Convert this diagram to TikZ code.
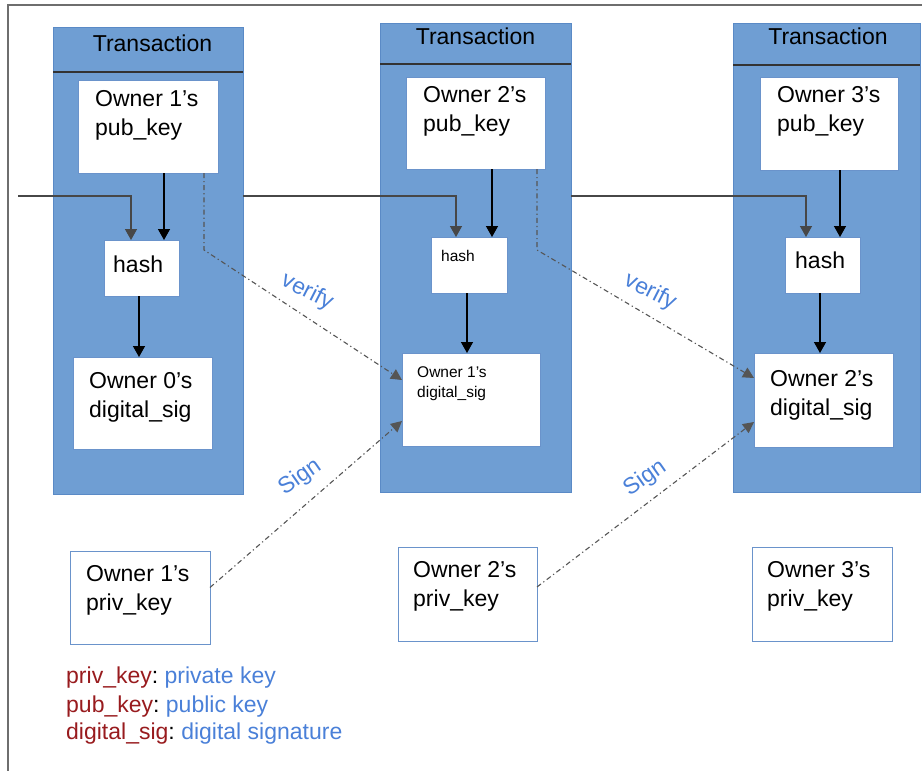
\documentclass[tikz,border=0pt]{standalone}
\usepackage{fontspec}
\setmainfont{Liberation Sans}
\usetikzlibrary{arrows.meta}

\definecolor{txfill}{HTML}{6F9ED3}
\definecolor{txedge}{HTML}{5A8AC6}
\definecolor{boxedge}{HTML}{6A93CB}
\definecolor{termred}{HTML}{981B1E}
\definecolor{termblue}{HTML}{4A80D8}
\definecolor{framegray}{HTML}{6E6E6E}
\definecolor{linkgray}{HTML}{474747}
\definecolor{dashgray}{HTML}{555555}

\begin{document}
\frenchspacing
\begin{tikzpicture}[x=1pt,y=-1pt,
  txbox/.style={draw=txedge, fill=txfill, line width=0.8pt, inner sep=0pt, outer sep=0pt, anchor=north west},
  wbox/.style={draw=boxedge, fill=white, line width=1pt, inner sep=0pt, outer sep=0pt, anchor=north west},
  divider/.style={draw=black!80, line width=1.2pt},
  title/.style={font=\fontsize{23}{29}\selectfont, inner sep=0pt, anchor=base},
  bigtext/.style={font=\fontsize{23}{29}\selectfont, inner sep=0pt, align=left, anchor=north west},
  smalltext/.style={font=\fontsize{15.5}{19.5}\selectfont, inner sep=0pt, align=left, anchor=north west},
  feed/.style={draw=black, line width=1.4pt, -{Triangle[length=11pt,width=12pt]}},
  chain/.style={draw=linkgray, line width=1.4pt, -{Triangle[length=11pt,width=12pt]}},
  sigline/.style={draw=dashgray, line width=1.1pt, dash pattern=on 5pt off 3pt on 1.2pt off 3pt, -{Triangle[length=11pt,width=11pt]}},
  tag/.style={font=\fontsize{23}{28}\selectfont, text=termblue, inner sep=0pt},
  legend/.style={font=\fontsize{23}{28}\selectfont, inner sep=0pt, anchor=base west}
]
\useasboundingbox (0,0) rectangle (922,771);

% outer frame (top and left edges only)
\draw[framegray, line width=1.5pt] (8,771) -- (8,5) -- (922,5);

% transaction columns
\node[txbox, minimum width=190pt, minimum height=467pt] (tx1) at (53,27) {};
\node[txbox, minimum width=191pt, minimum height=469pt] (tx2) at (380,23) {};
\node[txbox, minimum width=187pt, minimum height=469pt] (tx3) at (733,23) {};
\draw[divider] ([yshift=-45pt]tx1.north west) -- ([yshift=-45pt]tx1.north east);
\draw[divider] ([yshift=-41pt]tx2.north west) -- ([yshift=-41pt]tx2.north east);
\draw[divider] ([yshift=-42pt]tx3.north west) -- ([yshift=-42pt]tx3.north east);
\node[title] (tt1) at (152.5,51) {Transaction};
\node[title] (tt2) at (475.5,45) {Transaction};
\node[title] (tt3) at (828,45) {Transaction};

% boxes inside the transactions
\node[wbox, minimum width=140pt, minimum height=93pt] (pub1) at (78,80) {};
\node[wbox, minimum width=75pt, minimum height=56pt] (hash1) at (104,240) {};
\node[wbox, minimum width=139pt, minimum height=92pt] (sig0) at (73,357) {};
\node[wbox, minimum width=139pt, minimum height=92pt] (pub2) at (406,77) {};
\node[wbox, minimum width=76pt, minimum height=56pt] (hash2) at (431,237) {};
\node[wbox, minimum width=138pt, minimum height=93pt] (sig1) at (402,353) {};
\node[wbox, minimum width=138pt, minimum height=93pt] (pub3) at (760,77) {};
\node[wbox, minimum width=75pt, minimum height=56pt] (hash3) at (785,237) {};
\node[wbox, minimum width=139pt, minimum height=94pt] (sig2) at (754,353) {};

% private keys
\node[wbox, minimum width=140pt, minimum height=93pt] (priv1) at (70,551) {};
\node[wbox, minimum width=139pt, minimum height=94pt] (priv2) at (398,547) {};
\node[wbox, minimum width=140pt, minimum height=94pt] (priv3) at (752,547) {};

% box texts
\node[bigtext] (lpub1) at (95,90.5) {Owner 1’s\\pub\_key};
\node[bigtext, anchor=base west] (lhash1) at (113,272) {hash};
\node[bigtext] (lsig0) at (89,372.5) {Owner 0’s\\digital\_sig};
\node[bigtext] (lpub2) at (423,86.5) {Owner 2’s\\pub\_key};
\node[smalltext, anchor=base west] (lhash2) at (441,261) {hash};
\node[smalltext] (lsig1) at (417,366.5) {Owner 1’s\\digital\_sig};
\node[bigtext] (lpub3) at (777,86.5) {Owner 3’s\\pub\_key};
\node[bigtext, anchor=base west] (lhash3) at (795,268) {hash};
\node[bigtext] (lsig2) at (770,370.5) {Owner 2’s\\digital\_sig};
\node[bigtext] (lpriv1) at (86,565.5) {Owner 1’s\\priv\_key};
\node[bigtext] (lpriv2) at (413,561.5) {Owner 2’s\\priv\_key};
\node[bigtext] (lpriv3) at (767,561.5) {Owner 3’s\\priv\_key};

% x positions of the vertical connectors
\coordinate (c1a) at (131,0);  \coordinate (c1b) at (164,0);  \coordinate (c1c) at (139,0);
\coordinate (c2a) at (456,0);  \coordinate (c2b) at (492,0);  \coordinate (c2c) at (467,0);
\coordinate (c3a) at (806,0);  \coordinate (c3b) at (840,0);  \coordinate (c3c) at (820,0);
\coordinate (chainin) at (18,196);
\coordinate (v1a) at (204,0);  \coordinate (v1b) at (204,250);
\coordinate (v2a) at (537,0);  \coordinate (v2b) at (537,250);

% previous transaction feeding each hash
\draw[chain] (chainin) -| (c1a |- hash1.north);
\draw[chain] (tx1.east |- chainin) -| (c2a |- hash2.north);
\draw[chain] (tx2.east |- chainin) -| (c3a |- hash3.north);

% pub_key -> hash -> digital_sig
\draw[feed] (c1b |- pub1.south) -- (c1b |- hash1.north);
\draw[feed] (c1c |- hash1.south) -- (c1c |- sig0.north);
\draw[feed] (c2b |- pub2.south) -- (c2b |- hash2.north);
\draw[feed] (c2c |- hash2.south) -- (c2c |- sig1.north);
\draw[feed] (c3b |- pub3.south) -- (c3b |- hash3.north);
\draw[feed] (c3c |- hash3.south) -- (c3c |- sig2.north);

% verify and sign links
\draw[sigline] (v1a |- pub1.south) -- (v1b) -- ([yshift=-27pt]sig1.north west);
\draw[sigline] (v2a |- pub2.south) -- (v2b) -- ([yshift=-25pt]sig2.north west);
\draw[sigline] ([yshift=10pt]priv1.east) -- ([yshift=-68pt]sig1.north west);
\draw[sigline] ([yshift=7pt]priv2.east) -- ([yshift=-69pt]sig2.north west);

\node[tag, rotate=-27] (verify1) at (307,292) {verify};
\node[tag, rotate=-27] (verify2) at (650,292) {verify};
\node[tag, rotate=35] (sign1) at (300,477) {Sign};
\node[tag, rotate=35] (sign2) at (645,478) {Sign};

% legend
\node[legend] (leg1) at (66,683) {\textcolor{termred}{priv\_key}: \textcolor{termblue}{private key}};
\node[legend] (leg2) at (66,712) {\textcolor{termred}{pub\_key}: \textcolor{termblue}{public key}};
\node[legend] (leg3) at (66,739) {\textcolor{termred}{digital\_sig}: \textcolor{termblue}{digital signature}};
\end{tikzpicture}
\end{document}
